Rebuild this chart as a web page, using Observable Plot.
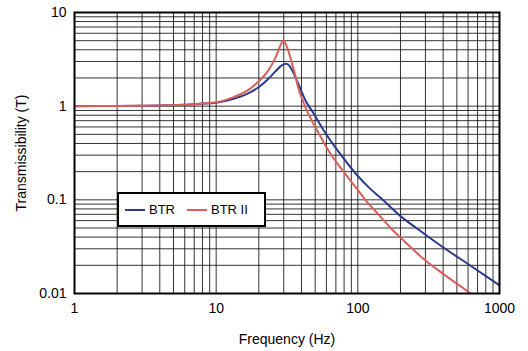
<!DOCTYPE html>
<html><head><meta charset="utf-8">
<script src="https://cdn.jsdelivr.net/npm/d3@7"></script>
<script src="https://cdn.jsdelivr.net/npm/@observablehq/plot@0.6"></script>
<style>
html,body{margin:0;padding:0;background:#fff;}
#chart{position:relative;width:528px;height:351px;}
.legend{position:absolute;left:117px;top:192px;width:145px;height:31px;border:2px solid #000;background:#fff;display:flex;align-items:center;font:13px "Liberation Sans",Arial,sans-serif;color:#000;}
.sw{display:inline-block;width:20px;height:2px;margin-left:6px;margin-right:4px;}
</style></head>
<body><div id="chart"></div>
<script>
const seriesNames = ["BTR", "BTR II"];
const seriesColors = ["#2b3a8f", "#d8605a"];

const freqBTR = [1, 2, 3, 6, 7.75, 10, 13.3, 15.8, 17.5, 20, 22.9, 26.2, 29, 31.4, 33, 35, 37, 39.4, 43, 48.9, 57.5, 64.1, 75.5, 98.9, 120, 150, 200, 269, 404, 607, 1000];
const tBTR    = [1.0, 1.005, 1.01, 1.035, 1.06, 1.09, 1.2, 1.31, 1.41, 1.6, 1.9, 2.35, 2.72, 2.83, 2.68, 2.3, 1.9, 1.52, 1.13, 0.83, 0.55, 0.43, 0.305, 0.183, 0.135, 0.1, 0.067, 0.048, 0.0308, 0.0204, 0.0122];

const freqBTR2 = [1, 2, 3, 6, 7.75, 10, 13.3, 15.8, 17.5, 20, 22.9, 26.2, 28, 29.7, 31, 32.5, 34, 36, 38.3, 41, 43.9, 51.6, 64.1, 81.8, 98.9, 110, 144.6, 175, 200, 300, 400, 631, 700];
const tBTR2    = [1.0, 1.005, 1.01, 1.035, 1.065, 1.1, 1.25, 1.4, 1.55, 1.85, 2.31, 3.3, 4.2, 5.0, 4.6, 3.8, 3.0, 2.2, 1.5, 1.13, 0.88, 0.55, 0.31, 0.188, 0.13, 0.105, 0.066, 0.048, 0.0395, 0.0225, 0.0162, 0.0099, 0.0088];

const xTicks = [1, 10, 100, 1000];
const yTicks = [0.01, 0.1, 1, 10];
const xLabel = "Frequency (Hz)";
const yLabel = "Transmissibility (T)";

const xGrid = d3.scaleLog().domain([1, 1000]).ticks();
const yGrid = d3.scaleLog().domain([0.01, 10]).ticks();

const btr = freqBTR.map((f, i) => ({f, t: tBTR[i]}));
const btr2 = freqBTR2.map((f, i) => ({f, t: tBTR2[i]}));

const chart = Plot.plot({
  width: 528, height: 351,
  marginLeft: 74, marginRight: 29, marginTop: 12, marginBottom: 58,
  x: {type: "log", domain: [1, 1000]},
  y: {type: "log", domain: [0.01, 10]},
  style: {fontFamily: '"Liberation Sans", Arial, sans-serif', fontSize: "14px", color: "#000", background: "#fff"},
  marks: [
    Plot.gridX(xGrid, {stroke: "#000", strokeOpacity: 0.8, strokeWidth: 1}),
    Plot.gridY(yGrid, {stroke: "#000", strokeOpacity: 0.8, strokeWidth: 1}),
    Plot.line(btr, {x: "f", y: "t", stroke: seriesColors[0], strokeWidth: 2, curve: "monotone-x", clip: true}),
    Plot.line(btr2, {x: "f", y: "t", stroke: seriesColors[1], strokeWidth: 2, curve: "monotone-x", clip: true}),
    Plot.frame({stroke: "#000", strokeWidth: 2}),
    Plot.axisX(xTicks, {tickSize: 0, tickPadding: 10, tickFormat: d => String(d), fontSize: 14, label: xLabel, labelAnchor: "center", labelOffset: 50, labelArrow: false}),
    Plot.axisY(yTicks, {tickSize: 0, tickPadding: 8, tickFormat: d => String(d), fontSize: 14, label: yLabel, labelAnchor: "center", labelOffset: 58, labelArrow: false})
  ]
});
const host = document.getElementById("chart");
host.appendChild(chart);

const leg = document.createElement("div");
leg.className = "legend";
seriesNames.forEach((name, i) => {
  const sw = document.createElement("span");
  sw.className = "sw";
  sw.style.background = seriesColors[i];
  if (i > 0) sw.style.marginLeft = "12px";
  const tx = document.createElement("span");
  tx.textContent = name;
  leg.appendChild(sw);
  leg.appendChild(tx);
});
host.appendChild(leg);
</script></body></html>
